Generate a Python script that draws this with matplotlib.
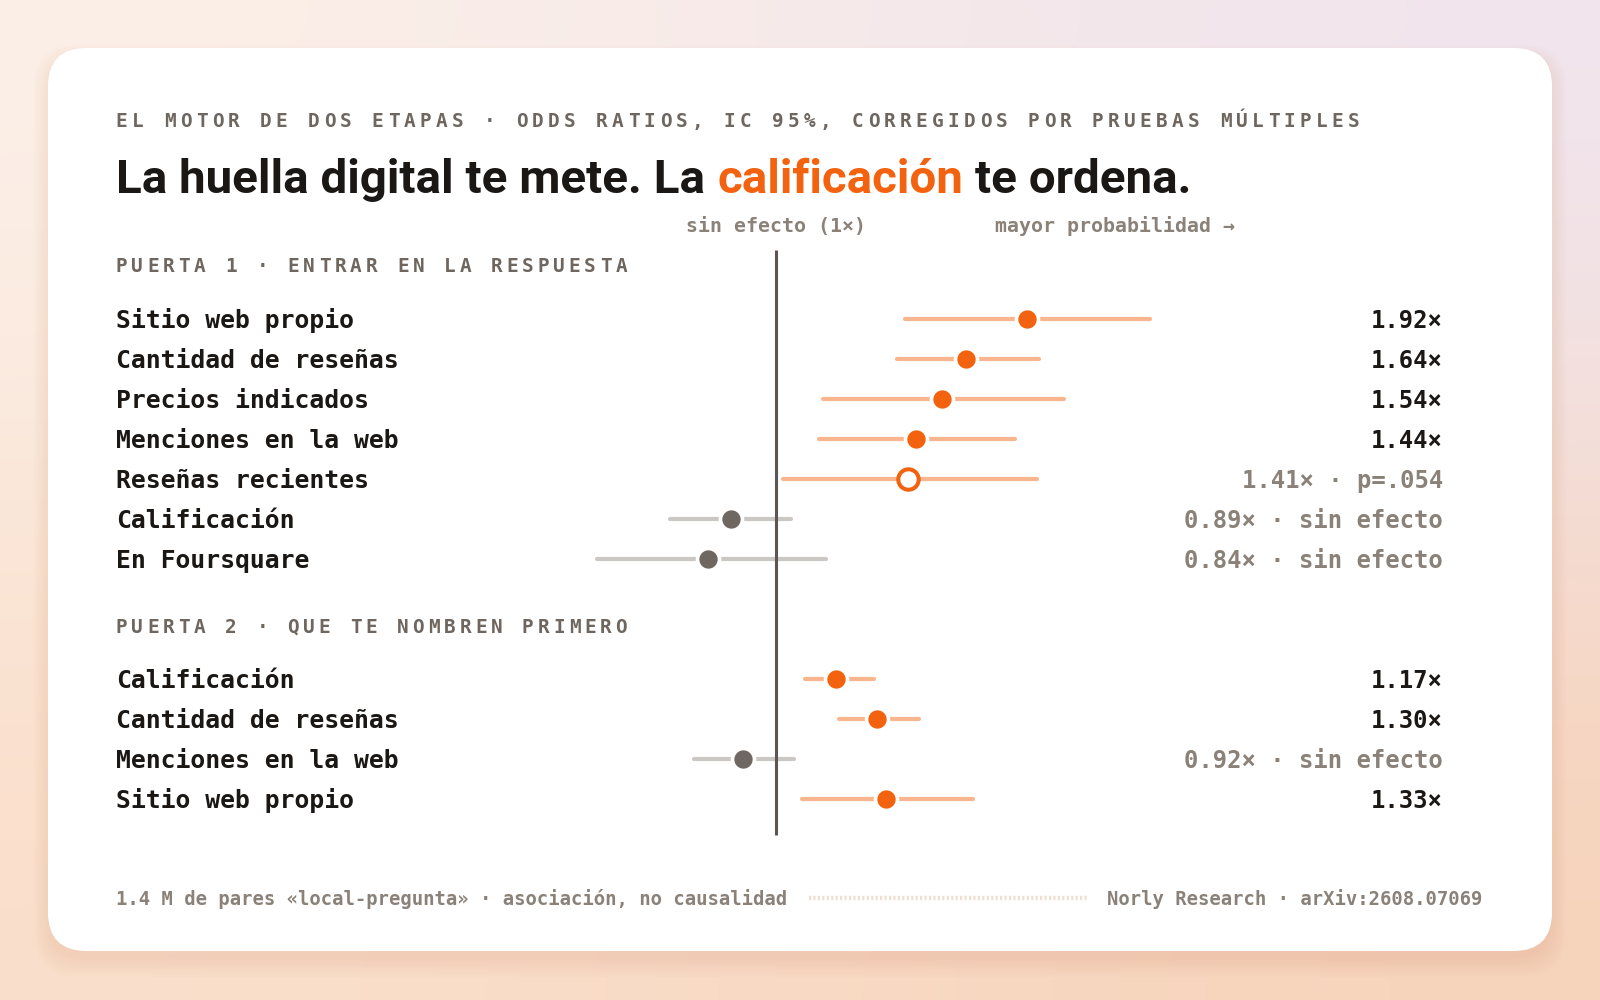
import numpy as np
import matplotlib
matplotlib.use('Agg')
import matplotlib.pyplot as plt
import matplotlib.transforms as mtransforms
from matplotlib.patches import FancyBboxPatch

# Data: odds ratios with 95% CI
gate1_labels = ['Sitio web propio', 'Cantidad de reseñas', 'Precios indicados',
                'Menciones en la web', 'Reseñas recientes', 'Calificación', 'En Foursquare']
gate1_or = [1.92, 1.64, 1.54, 1.44, 1.41, 0.89, 0.84]
gate1_lo = [1.40, 1.37, 1.13, 1.12, 1.02, 0.76, 0.63]
gate1_hi = [2.64, 1.98, 2.11, 1.86, 1.97, 1.04, 1.14]
gate1_status = ['sig', 'sig', 'sig', 'sig', 'marginal', 'ns', 'ns']
gate1_note = ['', '', '', '', 'p=.054', 'sin efecto', 'sin efecto']

gate2_labels = ['Calificación', 'Cantidad de reseñas', 'Menciones en la web', 'Sitio web propio']
gate2_or = [1.17, 1.30, 0.92, 1.33]
gate2_lo = [1.08, 1.18, 0.81, 1.07]
gate2_hi = [1.29, 1.45, 1.05, 1.67]
gate2_status = ['sig', 'sig', 'ns', 'sig']
gate2_note = ['', '', 'sin efecto', '']

kicker = 'EL MOTOR DE DOS ETAPAS · ODDS RATIOS, IC 95%, CORREGIDOS POR PRUEBAS MÚLTIPLES'
title_parts = ['La huella digital te mete. La', 'calificación', 'te ordena.']
gate1_title = 'PUERTA 1 · ENTRAR EN LA RESPUESTA'
gate2_title = 'PUERTA 2 · QUE TE NOMBREN PRIMERO'
footer_left = '1.4 M de pares «local-pregunta» · asociación, no causalidad'
footer_right = 'Norly Research · arXiv:2608.07069'

# colours
ORANGE = '#f2620f'
ORANGE_CI = '#f9b58e'
GREY_DOT = '#6f6862'
GREY_CI = '#cbc8c4'
DARK = '#1a1714'
MUTED = '#8a8179'
KICK = '#6e665f'
REF = '#5b5651'
MONO = 'DejaVu Sans Mono'

W, H = 1568, 980
S = 1600 / W


def pt(px):
    # reference pixels -> points
    return px * S * 0.72


fig = plt.figure(figsize=(16, 10), dpi=100)
bg = fig.add_axes([0, 0, 1, 1])
grad = np.array([[[252, 240, 232], [241, 229, 239]],
                 [[250, 223, 203], [247, 211, 185]]]) / 255
bg.imshow(grad, extent=[0, W, H, 0], interpolation='bicubic', aspect='auto', zorder=0)
bg.set_xlim(0, W)
bg.set_ylim(H, 0)
bg.axis('off')

# card shadow + card
for i in range(8):
    bg.add_patch(FancyBboxPatch((47 - i * 2, 55 - i * 1.5), 1474 + i * 4, 885 + i * 4,
                                boxstyle='round,pad=0,rounding_size=40',
                                fc='#c98a60', ec='none', alpha=0.018, zorder=1))
bg.add_patch(FancyBboxPatch((47, 47), 1474, 885, boxstyle='round,pad=0,rounding_size=38',
                            fc='white', ec='none', zorder=2))


def spaced(x, y, s, pitch, size, color, glyph=10.5, weight='bold'):
    for i, ch in enumerate(s):
        if ch != ' ':
            bg.text(x + glyph / 2 + i * pitch, y, ch, ha='center', va='baseline',
                    fontsize=size, color=color, family=MONO, weight=weight, zorder=5)


spaced(114, 124, kicker, 15.68, pt(19), KICK)
spaced(114, 267, gate1_title, 15.3, pt(19), KICK)
spaced(114, 620, gate2_title, 15.3, pt(19), KICK)

# title in three pieces, fitted to the reference width
renderer = fig.canvas.get_renderer()
tfam = 'Roboto'


def width_of(s, size):
    t = bg.text(0, 0, s, fontsize=size, family=tfam, weight='bold')
    w = t.get_window_extent(renderer).width / S
    t.remove()
    return w


base = 32
total = sum(width_of(p, base) for p in title_parts)
space = width_of('a a', base) - width_of('aa', base)
total += 2 * space
tsize = base * 1054 / total
sp = space * tsize / base
x = 114
for p, c in zip(title_parts, [DARK, ORANGE, DARK]):
    t = bg.text(x, 189, p, fontsize=tsize, family=tfam, weight='bold', color=c,
                ha='left', va='baseline', zorder=5)
    x += t.get_window_extent(renderer).width / S + sp

# axis hints
bg.text(760, 227, 'sin efecto (1×)', ha='center', va='baseline', fontsize=pt(19.5),
        family=MONO, color=MUTED, weight='bold', zorder=5)
bg.text(975, 227, 'mayor probabilidad →', ha='left', va='baseline', fontsize=pt(19.5),
        family=MONO, color=MUTED, weight='bold', zorder=5)

# forest plot axes (log scale, 378 px per e-fold, 1x at x=760)
ax = fig.add_axes([560 / W, 1 - 830 / H, 600 / W, 600 / H])
ax.set_xscale('log')
ax.set_xlim(np.exp(-200 / 378), np.exp(400 / 378))
ax.set_ylim((830 - 313) / 39.2, (230 - 313) / 39.2)
ax.axis('off')
ax.patch.set_alpha(0)

ax.plot([1, 1], [-1.73, 12.88], color=REF, lw=2.2, zorder=2, clip_on=False,
        solid_capstyle='butt')

trans = mtransforms.blended_transform_factory(bg.transData, ax.transData)

rows = list(range(7)) + list(range(9, 13))
labels = gate1_labels + gate2_labels
ors = gate1_or + gate2_or
los = gate1_lo + gate2_lo
his = gate1_hi + gate2_hi
status = gate1_status + gate2_status
notes = gate1_note + gate2_note

for y, lab, o, lo, hi, st, note in zip(rows, labels, ors, los, his, status, notes):
    ci_col = GREY_CI if st == 'ns' else ORANGE_CI
    ax.plot([lo, hi], [y, y], color=ci_col, lw=3.0, solid_capstyle='round',
            zorder=1, clip_on=False)
    if st == 'sig':
        ax.plot(o, y, 'o', ms=15.8, mfc=ORANGE, mec='white', mew=2.6, zorder=3, clip_on=False)
    elif st == 'marginal':
        ax.plot(o, y, 'o', ms=14.7, mfc='white', mec=ORANGE, mew=2.9, zorder=3, clip_on=False)
    else:
        ax.plot(o, y, 'o', ms=15.8, mfc=GREY_DOT, mec='white', mew=2.6, zorder=3, clip_on=False)

    ax.text(114, y + 0.03, lab, transform=trans, ha='left', va='center', fontsize=pt(24.3),
            family=MONO, weight='bold', color=DARK)
    val = f'{o:.2f}×'
    if note:
        val += ' · ' + note
    ax.text(1414, y + 0.03, val, transform=trans, ha='right', va='center', fontsize=pt(23.4),
            family=MONO, weight='bold', color=DARK if st == 'sig' else MUTED)

# footer
bg.text(114, 887, footer_left, ha='left', va='baseline', fontsize=pt(18.5),
        family=MONO, color=MUTED, weight='bold', zorder=5)
bg.text(1453, 887, footer_right, ha='right', va='baseline', fontsize=pt(18.5),
        family=MONO, color=MUTED, weight='bold', zorder=5)
bg.plot([793, 1066], [880, 880], color='#efdccd', lw=3.2, ls=(0, (0.45, 0.55)), zorder=5)

fig.savefig('out.png', dpi=100)
